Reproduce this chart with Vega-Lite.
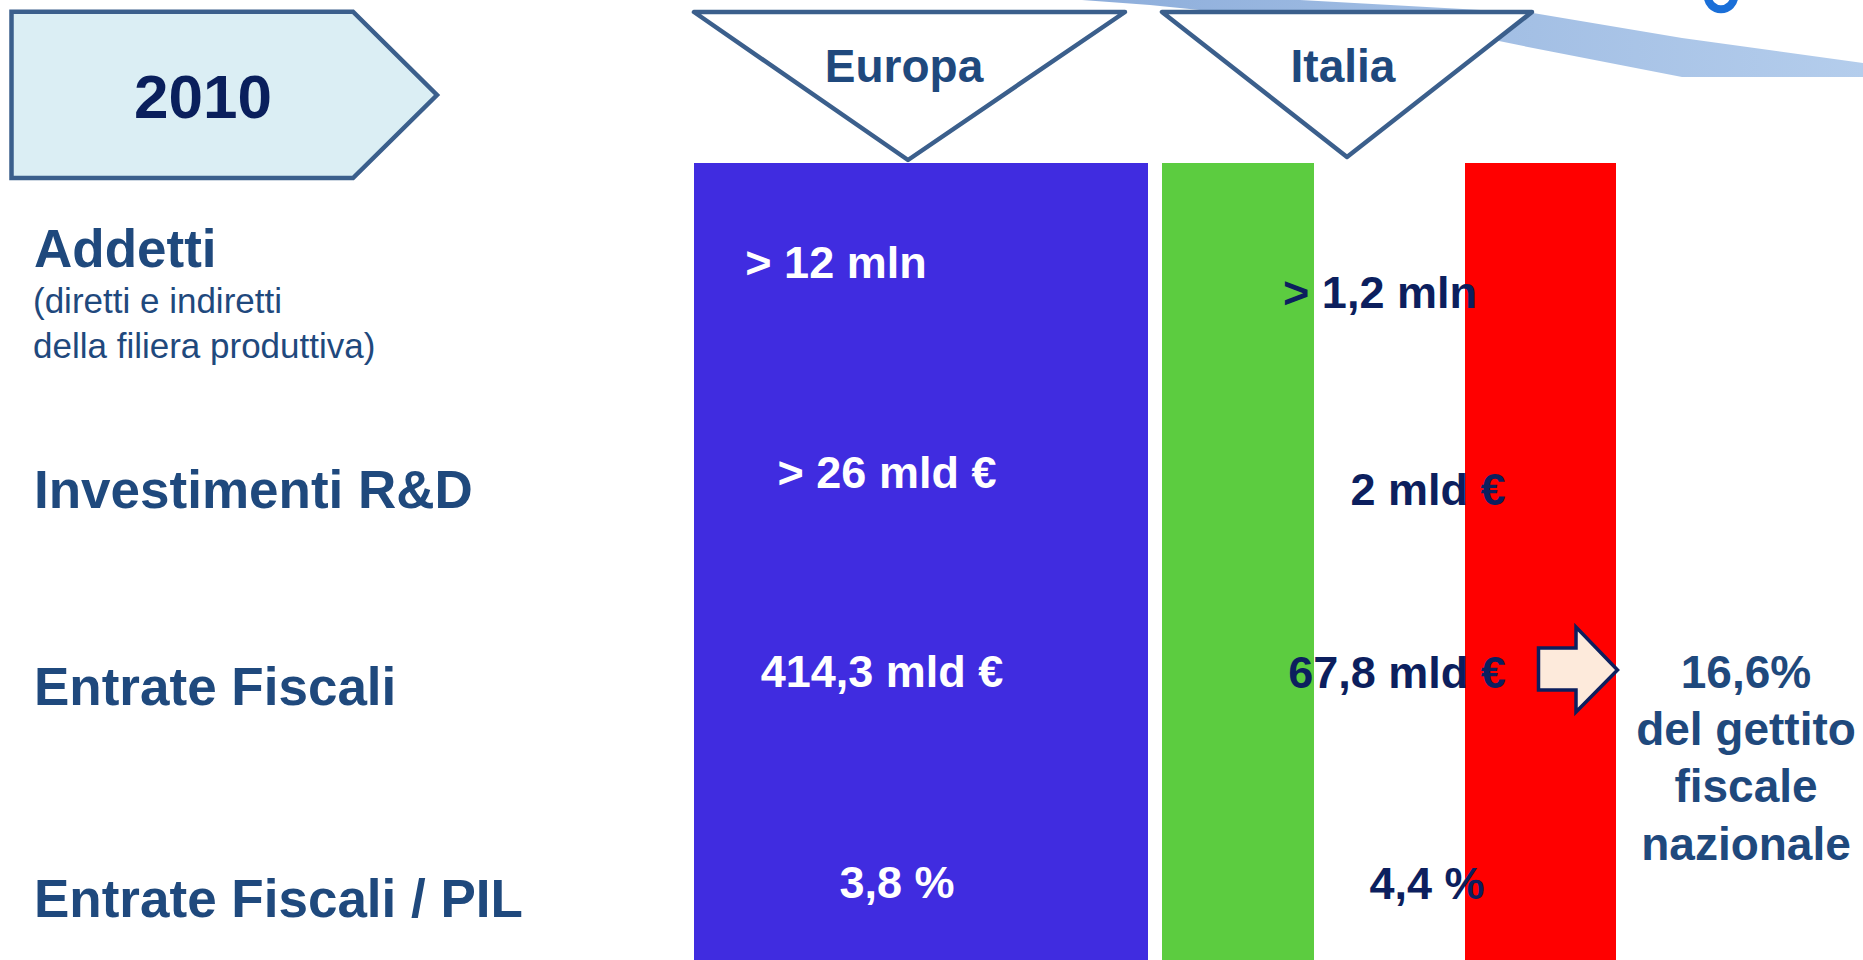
{
  "$schema": "https://vega.github.io/schema/vega-lite/v6.json",
  "width": 1863,
  "height": 960,
  "autosize": {"type": "none"},
  "padding": 0,
  "background": "white",
  "config": {"view": {"stroke": null}},
  "encoding": {
    "x": {"field": "x", "type": "quantitative", "scale": {"domain": [0, 1863], "nice": false, "zero": false}, "axis": null},
    "y": {"field": "y", "type": "quantitative", "scale": {"domain": [0, 960], "reverse": true, "nice": false, "zero": false}, "axis": null}
  },
  "layer": [
    {
      "data": {"values": [
        {"x": 1082, "y": 0, "y2": 0},
        {"x": 1150, "y": 0, "y2": 5},
        {"x": 1300, "y": 0, "y2": 20},
        {"x": 1499, "y": 11, "y2": 41},
        {"x": 1533, "y": 13, "y2": 48},
        {"x": 1682, "y": 38, "y2": 77},
        {"x": 1863, "y": 63, "y2": 77}
      ]},
      "mark": {"type": "area", "fill": {"gradient": "linear", "x1": 0, "x2": 1, "y1": 0, "y2": 0, "stops": [{"offset": 0, "color": "#8eaedb"}, {"offset": 1, "color": "#b4cdec"}]}},
      "encoding": {"y2": {"field": "y2"}}
    },
    {
      "data": {"values": [{"x": 1721, "y": -4}]},
      "mark": {"type": "point", "shape": "circle", "filled": false, "stroke": "#1a6fd8", "strokeWidth": 8, "size": 700, "opacity": 1}
    },
    {
      "data": {"values": [
        {"x": 11.5, "y": 11.7, "y2": 178},
        {"x": 353, "y": 11.7, "y2": 178},
        {"x": 437, "y": 95, "y2": 95}
      ]},
      "mark": {"type": "area", "fill": "#dbeef4", "stroke": "#3b5f8c", "strokeWidth": 4.5, "strokeJoin": "miter"},
      "encoding": {"y2": {"field": "y2"}}
    },
    {
      "data": {"values": [
        {"x": 694, "y": 12, "y2": 12},
        {"x": 908, "y": 12, "y2": 160},
        {"x": 1125, "y": 12, "y2": 12}
      ]},
      "mark": {"type": "area", "fill": "white", "stroke": "#3b5f8c", "strokeWidth": 4.5, "strokeJoin": "round"},
      "encoding": {"y2": {"field": "y2"}}
    },
    {
      "data": {"values": [
        {"x": 1162, "y": 12, "y2": 12},
        {"x": 1347, "y": 12, "y2": 157},
        {"x": 1532, "y": 12, "y2": 12}
      ]},
      "mark": {"type": "area", "fill": "white", "stroke": "#3b5f8c", "strokeWidth": 4.5, "strokeJoin": "round"},
      "encoding": {"y2": {"field": "y2"}}
    },
    {
      "data": {"values": [
        {"band": "Europa", "x": 694, "x2": 1148, "y": 163, "y2": 960},
        {"band": "Italia verde", "x": 1162, "x2": 1314, "y": 163, "y2": 960},
        {"band": "Italia bianco", "x": 1314, "x2": 1465, "y": 163, "y2": 960},
        {"band": "Italia rosso", "x": 1465, "x2": 1616, "y": 163, "y2": 960}
      ]},
      "mark": {"type": "rect"},
      "encoding": {
        "x2": {"field": "x2"},
        "y2": {"field": "y2"},
        "color": {"field": "band", "type": "nominal", "legend": null,
          "scale": {"domain": ["Europa", "Italia verde", "Italia bianco", "Italia rosso"], "range": ["#402ce0", "#5ccc40", "#ffffff", "#ff0000"]}}
      }
    },
    {
      "data": {"values": [
        {"x": 1538.5, "y": 648, "y2": 690},
        {"x": 1576, "y": 648, "y2": 690},
        {"x": 1576.01, "y": 627, "y2": 712},
        {"x": 1617.5, "y": 670, "y2": 670}
      ]},
      "mark": {"type": "area", "fill": "#fdeadb", "stroke": "#0c1f5e", "strokeWidth": 3.5, "strokeJoin": "miter"},
      "encoding": {"y2": {"field": "y2"}}
    },
    {
      "data": {"values": [{"x": 203, "y": 118, "t": "2010"}]},
      "mark": {"type": "text", "font": "Liberation Sans", "fontWeight": "bold", "fontSize": 62, "color": "#0a1f5c", "align": "center", "baseline": "alphabetic"},
      "encoding": {"text": {"field": "t"}}
    },
    {
      "data": {"values": [
        {"x": 904, "y": 82, "t": "Europa"},
        {"x": 1343, "y": 82, "t": "Italia"}
      ]},
      "mark": {"type": "text", "font": "Liberation Sans", "fontWeight": "bold", "fontSize": 46, "color": "#1f497d", "align": "center", "baseline": "alphabetic"},
      "encoding": {"text": {"field": "t"}}
    },
    {
      "data": {"values": [
        {"x": 34, "y": 267, "t": "Addetti"},
        {"x": 34, "y": 508, "t": "Investimenti R&D"},
        {"x": 34, "y": 705, "t": "Entrate Fiscali"},
        {"x": 34, "y": 917, "t": "Entrate Fiscali / PIL"}
      ]},
      "mark": {"type": "text", "font": "Liberation Sans", "fontWeight": "bold", "fontSize": 53, "color": "#1f497d", "align": "left", "baseline": "alphabetic"},
      "encoding": {"text": {"field": "t"}}
    },
    {
      "data": {"values": [
        {"x": 33, "y": 313, "t": "(diretti e indiretti"},
        {"x": 33, "y": 358, "t": "della filiera produttiva)"}
      ]},
      "mark": {"type": "text", "font": "Liberation Sans", "fontWeight": "normal", "fontSize": 35, "color": "#1f497d", "align": "left", "baseline": "alphabetic"},
      "encoding": {"text": {"field": "t"}}
    },
    {
      "data": {"values": [
        {"x": 836, "y": 278, "t": "> 12 mln"},
        {"x": 887, "y": 488, "t": "> 26 mld €"},
        {"x": 882, "y": 687, "t": "414,3 mld €"},
        {"x": 897, "y": 898, "t": "3,8 %"}
      ]},
      "mark": {"type": "text", "font": "Liberation Sans", "fontWeight": "bold", "fontSize": 45, "color": "#ffffff", "align": "center", "baseline": "alphabetic"},
      "encoding": {"text": {"field": "t"}}
    },
    {
      "data": {"values": [
        {"x": 1380, "y": 308, "t": "> 1,2 mln"},
        {"x": 1428, "y": 505, "t": "2 mld €"},
        {"x": 1397, "y": 688, "t": "67,8 mld €"},
        {"x": 1427, "y": 899, "t": "4,4 %"}
      ]},
      "mark": {"type": "text", "font": "Liberation Sans", "fontWeight": "bold", "fontSize": 45, "color": "#0c1f5e", "align": "center", "baseline": "alphabetic"},
      "encoding": {"text": {"field": "t"}}
    },
    {
      "data": {"values": [
        {"x": 1746, "y": 688, "t": "16,6%"},
        {"x": 1746, "y": 745, "t": "del gettito"},
        {"x": 1746, "y": 802, "t": "fiscale"},
        {"x": 1746, "y": 860, "t": "nazionale"}
      ]},
      "mark": {"type": "text", "font": "Liberation Sans", "fontWeight": "bold", "fontSize": 46, "color": "#1f497d", "align": "center", "baseline": "alphabetic"},
      "encoding": {"text": {"field": "t"}}
    }
  ]
}
